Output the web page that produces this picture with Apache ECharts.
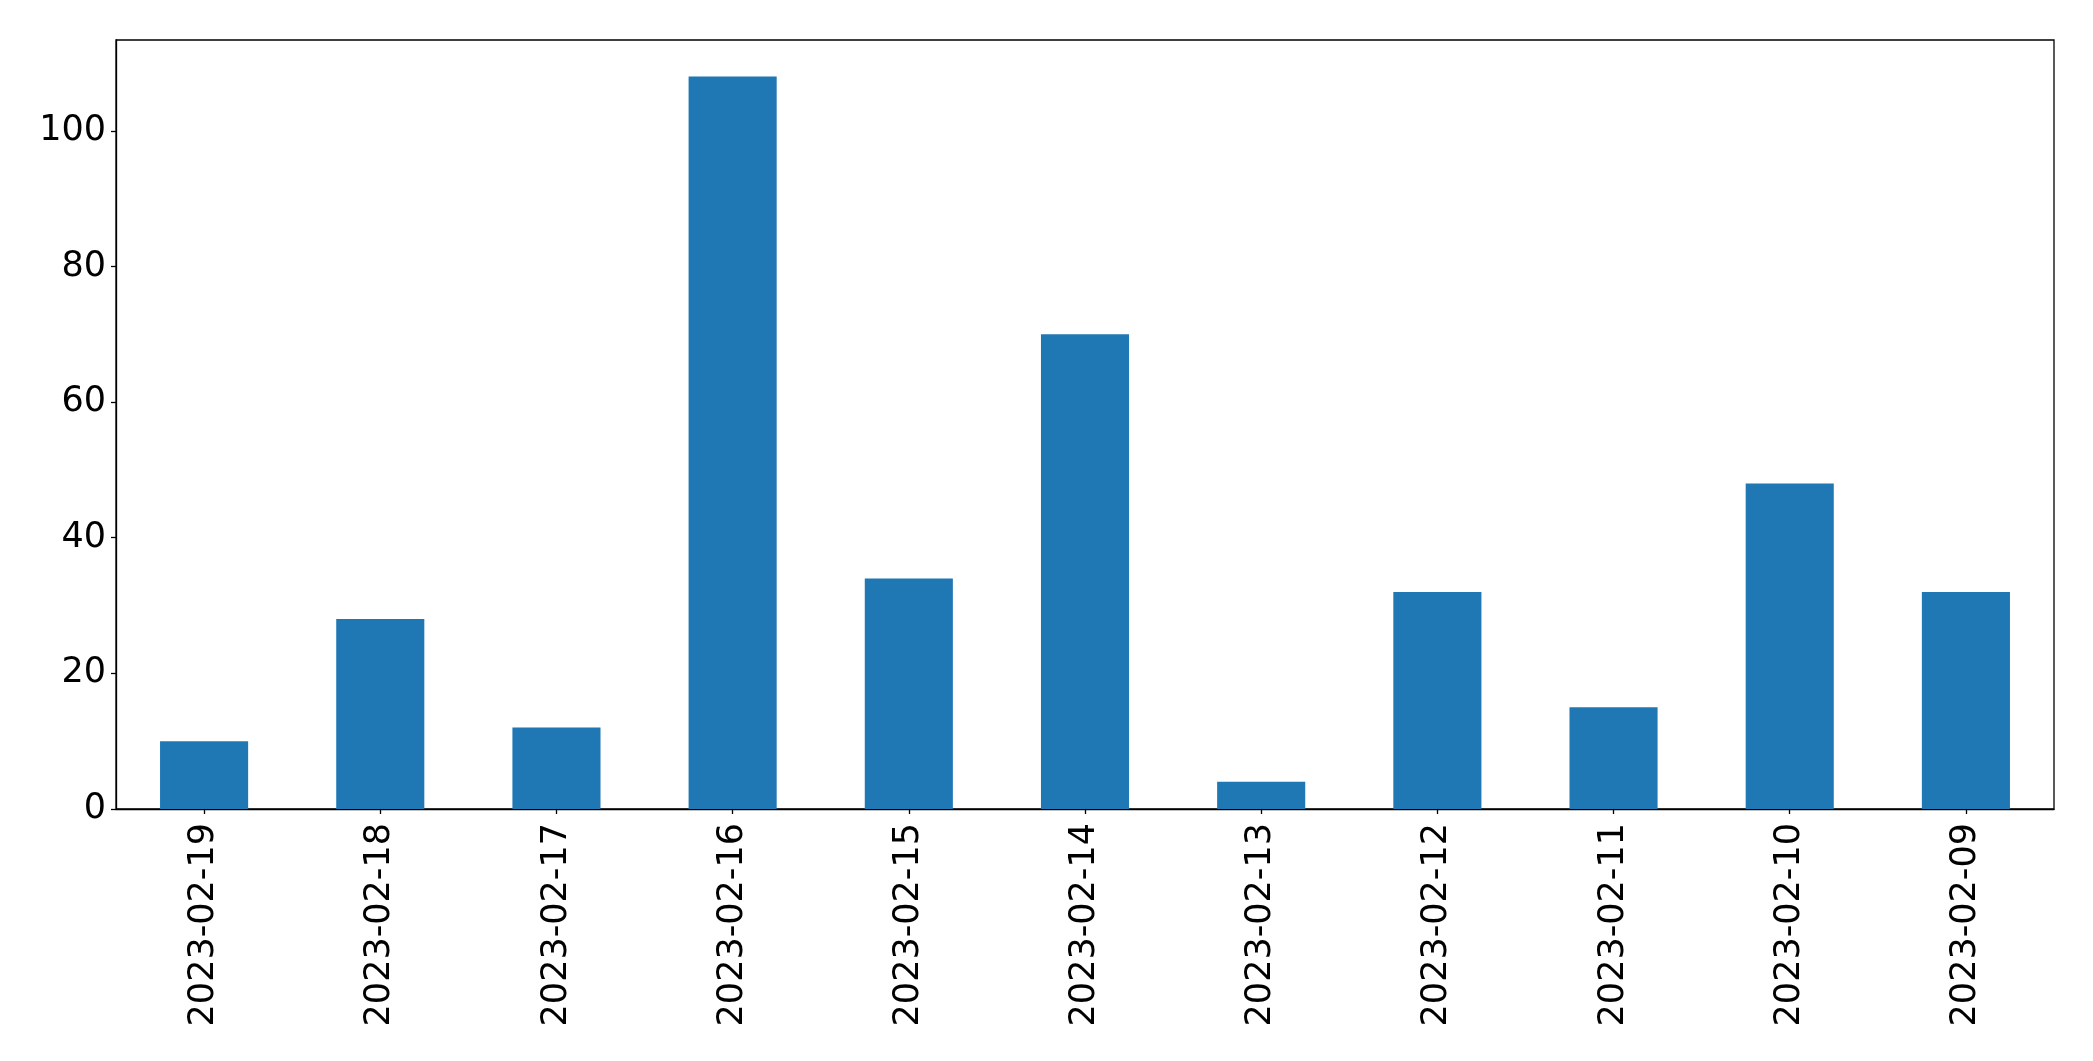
<!DOCTYPE html>
<html><head><meta charset="utf-8">
<script src="https://cdn.jsdelivr.net/npm/echarts@6/dist/echarts.min.js"></script>
<style>html,body{margin:0;padding:0;background:#fff}#c{width:2093px;height:1061px}</style>
</head><body><div id="c"></div>
<script>
const categories = ['2023-02-19','2023-02-18','2023-02-17','2023-02-16','2023-02-15','2023-02-14','2023-02-13','2023-02-12','2023-02-11','2023-02-10','2023-02-09'];
const values = [10, 28, 12, 108, 34, 70, 4, 32, 15, 48, 32];
const yTicks = [0, 20, 40, 60, 80, 100];

const chart = echarts.init(document.getElementById('c'), null, {renderer:'canvas'});
const font = 'DejaVu Sans';
chart.setOption({
  animation: false,
  grid: {left:116, right:39, top:40, bottom:252, show:true, borderColor:'#000', borderWidth:1.3, backgroundColor:'transparent'},
  xAxis: {
    type:'category', data: categories, boundaryGap:true,
    axisLine:{show:true, lineStyle:{color:'#000', width:1.3}},
    axisTick:{show:true, alignWithLabel:true, length:5, lineStyle:{color:'#000', width:1.3}},
    axisLabel:{rotate:90, fontSize:35, fontFamily:font, color:'#000', margin:14, interval:0}
  },
  yAxis: {
    type:'value', min:0, max:113.4, interval:20,
    axisLine:{show:true, lineStyle:{color:'#000', width:1.3}},
    axisTick:{show:true, length:5, lineStyle:{color:'#000', width:1.3}},
    splitLine:{show:false},
    axisLabel:{fontSize:35, fontFamily:font, color:'#000', margin:10, showMaxLabel:false,
      formatter: v => yTicks.includes(v) ? String(v) : ''}
  },
  series: [{type:'bar', data: values, barWidth:'50%', itemStyle:{color:'#1f77b4'}}]
});
</script></body></html>
